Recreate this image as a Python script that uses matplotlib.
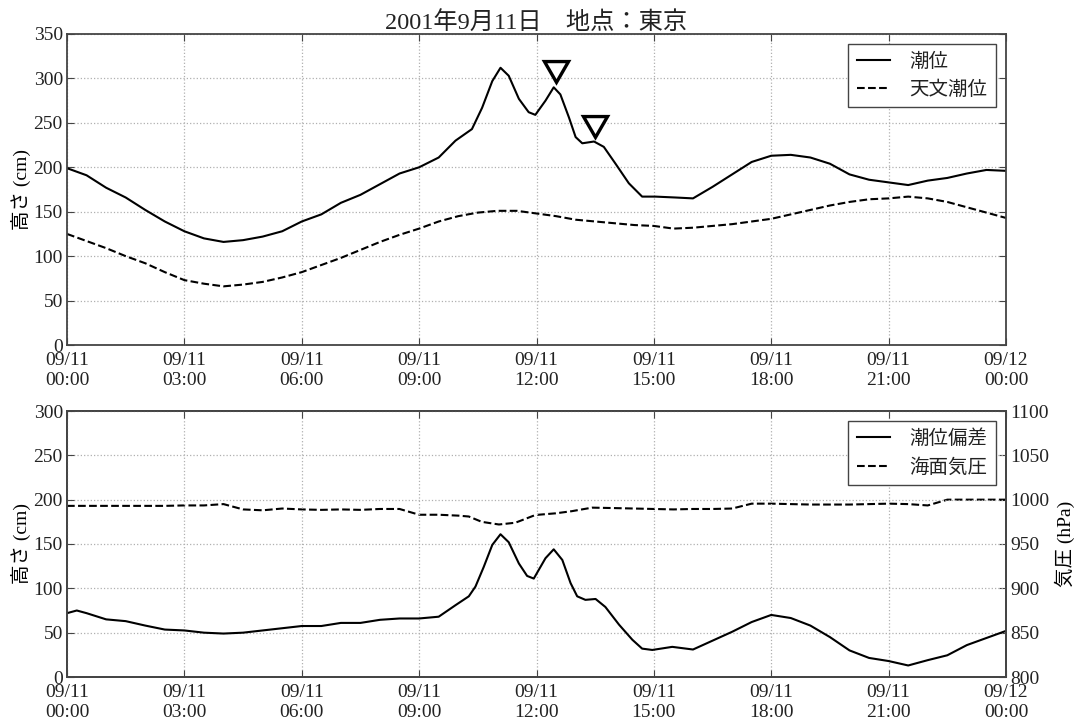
import matplotlib
matplotlib.use("Agg")
import matplotlib.pyplot as plt
import matplotlib.dates as mdates
import pandas as pd

plt.rcParams["font.family"] = ["Liberation Serif", "Noto Sans CJK JP"]
plt.rcParams["text.color"] = "#222222"
plt.rcParams["axes.edgecolor"] = "#444444"
plt.rcParams["axes.linewidth"] = 1.3
plt.rcParams["xtick.color"] = "#444444"
plt.rcParams["ytick.color"] = "#444444"
plt.rcParams["xtick.labelcolor"] = "#222222"
plt.rcParams["ytick.labelcolor"] = "#222222"

BASE = pd.Timestamp("2001-09-11 00:00")

# ---------------- DATA ----------------

# 潮位 (cm)
tide_hours = [0, 0.5, 1, 1.5, 2, 2.5, 3, 3.5, 4, 4.5, 5, 5.5, 6, 6.5, 7, 7.5,
              8, 8.5, 9, 9.5, 9.93, 10.35, 10.61, 10.87, 11.08, 11.29, 11.55,
              11.8, 11.97, 12.23, 12.44, 12.61, 12.83, 13.0, 13.17, 13.47,
              13.72, 14.02, 14.36, 14.7, 15.04, 15.55, 16, 16.5, 17, 17.5,
              18, 18.5, 19, 19.5, 20, 20.5, 21, 21.5, 22, 22.5, 23, 23.5, 24]
tide_cm = [199, 191, 177, 166, 152, 139, 128, 120, 116, 118, 122, 128, 139,
           147, 160, 169, 181, 193, 200, 211, 230, 243, 267, 297, 312, 303,
           277, 262, 259, 275, 290, 282, 256, 234, 227, 229, 223, 204, 182,
           167, 167, 166, 165, 178, 192, 206, 213, 214, 211, 204, 192, 186,
           183, 180, 185, 188, 193, 197, 196]

# 天文潮位 (cm)
astro_hours = [0, 0.5, 1, 1.5, 2, 2.5, 3, 3.5, 4, 4.5, 5, 5.5, 6, 6.5, 7, 7.5,
               8, 8.5, 9, 9.5, 10, 10.5, 11, 11.5, 12, 12.5, 13, 13.5, 14,
               14.5, 15, 15.5, 16, 16.5, 17, 17.5, 18, 18.5, 19, 19.5, 20,
               20.5, 21, 21.5, 22, 22.5, 23, 23.5, 24]
astro_cm = [125, 117, 109, 100, 92, 82, 73, 69, 66, 68, 71, 76, 82, 90, 98,
            107, 116, 124, 131, 139, 145, 149, 151, 151, 148, 145, 141, 139,
            137, 135, 134, 131, 132, 134, 136, 139, 142, 147, 152, 157, 161,
            164, 165, 167, 165, 161, 155, 149, 143]

# 最大潮位の位置
peak_hours = [12.5, 13.5]
peak_cm = [312, 250]

# 潮位偏差 (cm)
surge_hours = [0, 0.25, 0.5, 1, 1.5, 2, 2.5, 3, 3.5, 4, 4.5, 5, 5.5, 6, 6.5,
               7, 7.5, 8, 8.5, 9, 9.5, 9.93, 10.27, 10.44, 10.65, 10.87,
               11.08, 11.29, 11.55, 11.76, 11.93, 12.23, 12.44, 12.66, 12.87,
               13.04, 13.25, 13.51, 13.76, 14.11, 14.45, 14.7, 14.96, 15.47,
               16, 16.5, 17, 17.5, 18, 18.5, 19, 19.5, 20, 20.5, 21, 21.5, 22,
               22.5, 23, 23.5, 24]
surge_cm = [72, 75, 72, 65, 63, 58, 53.5, 52.5, 50, 49, 50, 52.5, 55, 57.5,
            57.5, 61, 61, 64.5, 66, 66, 68, 81, 91, 102, 124, 149, 161, 152,
            128, 114, 111, 134, 144, 132, 106, 91, 87, 88, 79, 59, 42, 32,
            30.5, 34, 31, 41, 51, 62, 70, 66.5, 58, 45, 30, 21.5, 18, 13, 19,
            24.5, 36, 44, 52]

# 海面気圧 (hPa)
pres_hours = [0, 0.5, 1, 1.5, 2, 2.5, 3, 3.5, 4, 4.5, 5, 5.5, 6, 6.5, 7, 7.5,
              8, 8.5, 9, 9.5, 10, 10.27, 10.6, 11.04, 11.46, 11.97, 12.49,
              12.9, 13.42, 14, 14.5, 15, 15.5, 16, 16.5, 17, 17.5, 18, 18.5,
              19, 19.5, 20, 20.5, 21, 21.5, 22, 22.5, 23, 23.5, 24]
pres_hpa = [993, 993, 993, 993, 993, 993, 993.5, 993.5, 995, 989, 988, 990,
            989, 988.5, 989, 988.5, 989.5, 989.5, 983, 983, 982, 981, 975,
            972, 974, 982.7, 984.6, 987, 991, 990.5, 990, 989.5, 989, 989.5,
            989.5, 990, 995.5, 995.5, 995, 994.5, 994.5, 994.5, 995, 995.5,
            995, 993.5, 1000, 1000, 1000, 1000]


def to_time(hours):
    return BASE + pd.to_timedelta(hours, unit="h")


def style_time_axis(ax):
    ax.set_xlim(BASE, BASE + pd.Timedelta(hours=24))
    ax.xaxis.set_major_locator(mdates.HourLocator(byhour=range(0, 24, 3)))
    ax.xaxis.set_major_formatter(mdates.DateFormatter("%m/%d\n%H:%M"))
    ax.grid(True, color="#b0b0b0", linestyle=":", linewidth=0.9)
    ax.tick_params(axis="x", direction="in", length=5, pad=5, labelsize=14)
    ax.tick_params(axis="y", direction="in", length=5, pad=3, labelsize=14)


fig = plt.figure(figsize=(10.76, 7.22), dpi=100)

# ---------------- 潮位 / 天文潮位 ----------------
ax1 = fig.add_axes([67 / 1076, 1 - 345 / 722, 939 / 1076, 311 / 722])
ax1.plot(to_time(tide_hours), tide_cm, color="black", lw=1.5, label="潮位")
ax1.plot(to_time(astro_hours), astro_cm, color="black", lw=1.5, ls="--",
         label="天文潮位")
ax1.plot(to_time(peak_hours), peak_cm, ls="none", marker=(3, 0, 180),
         markersize=20, markerfacecolor="white", markeredgecolor="black",
         markeredgewidth=2.4)
style_time_axis(ax1)
ax1.tick_params(top=True, right=True)
ax1.set_ylim(0, 350)
ax1.set_ylabel("高さ (cm)", fontsize=14, labelpad=2)
ax1.set_title("2001年9月11日　地点：東京", fontsize=17.5, pad=3)
ax1.legend(loc="upper right", fontsize=14, fancybox=False, framealpha=1,
           edgecolor="#444444", handlelength=1.7, handletextpad=1.0,
           borderpad=0.45, borderaxespad=0.5)

# ---------------- 潮位偏差 / 海面気圧 ----------------
ax2 = fig.add_axes([67 / 1076, 1 - 677 / 722, 939 / 1076, 266 / 722])
ax3 = ax2.twinx()
l1, = ax2.plot(to_time(surge_hours), surge_cm, color="black", lw=1.5,
               label="潮位偏差")
l2, = ax3.plot(to_time(pres_hours), pres_hpa, color="black", lw=1.5, ls="--",
               label="海面気圧")
style_time_axis(ax2)
ax2.tick_params(top=True)
ax2.set_ylim(0, 300)
ax2.set_ylabel("高さ (cm)", fontsize=14, labelpad=2)
ax3.set_ylim(800, 1100)
ax3.tick_params(axis="y", direction="in", length=5, pad=3, labelsize=14)
ax3.set_ylabel("気圧 (hPa)", fontsize=14, labelpad=4)
ax2.set_zorder(ax3.get_zorder() + 1)
ax2.patch.set_visible(False)
ax2.legend([l1, l2], ["潮位偏差", "海面気圧"], loc="upper right", fontsize=14,
           fancybox=False, framealpha=1, edgecolor="#444444",
           handlelength=1.7, handletextpad=1.0, borderpad=0.45,
           borderaxespad=0.5)

fig.savefig("out.png", dpi=100)
